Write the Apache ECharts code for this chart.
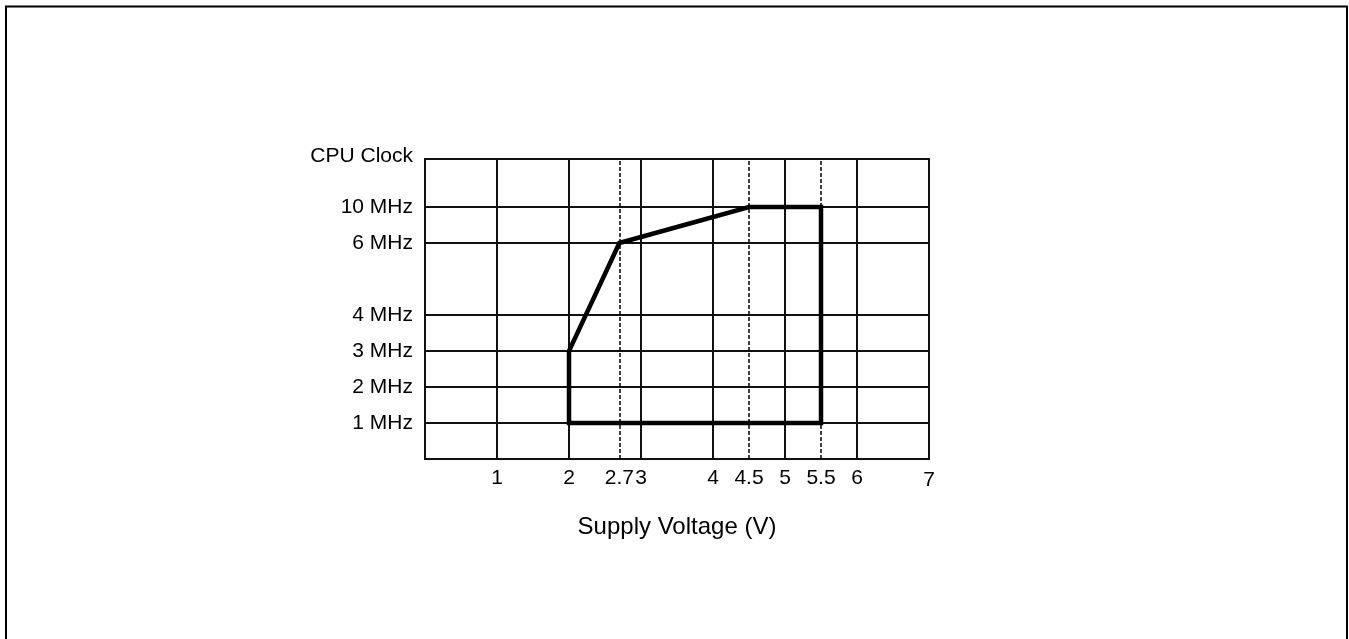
<!DOCTYPE html>
<html>
<head>
<meta charset="utf-8">
<title>CPU Clock vs Supply Voltage</title>
<script src="https://cdn.jsdelivr.net/npm/echarts@6/dist/echarts.min.js"></script>
<style>
  html, body { margin: 0; padding: 0; background: #fff; }
  #chart { width: 1349px; height: 639px; }
</style>
</head>
<body>
<div id="chart"></div>
<script>
// Supply voltage ticks (V) and grid lines
const voltTicks = [1, 2, 2.7, 3, 4, 4.5, 5, 5.5, 6, 7];
const voltGridSolid = [1, 2, 3, 4, 5, 6];
const voltGridDashed = [2.7, 4.5, 5.5];

// CPU clock ticks (MHz) and their labels
const freqTicks = [1, 2, 3, 4, 6, 10];
const freqTickLabels = ['1 MHz', '2 MHz', '3 MHz', '4 MHz', '6 MHz', '10 MHz'];

// Operating region boundary (closed polygon)
const boundaryVolt = [2, 2, 2.7, 4.5, 5.5, 5.5, 2];
const boundaryFreq = [1, 3, 6, 10, 10, 1, 1];

// The clock axis is linear up to 6 MHz, then 6..10 MHz is compressed into one step
function freqToAxis(f) {
  return f <= 6 ? f : 6 + (f - 6) / 4;
}

const FONT = '"Liberation Sans", Arial, Helvetica, sans-serif';
const chart = echarts.init(document.getElementById('chart'), null, { renderer: 'canvas' });

const option = {
  animation: false,
  backgroundColor: '#fff',
  textStyle: { fontFamily: FONT, color: '#000' },
  graphic: [{
    type: 'rect',
    shape: { x: 6, y: 6.5, width: 1341, height: 700 },
    style: { fill: 'none', stroke: '#000', lineWidth: 2 },
    silent: true
  }],
  grid: {
    left: 425, top: 159, right: 420, bottom: 180,
    show: true, borderColor: '#111', borderWidth: 2, backgroundColor: 'transparent'
  },
  xAxis: {
    type: 'value', min: 0, max: 7,
    axisLine: { show: false }, axisTick: { show: false }, splitLine: { show: false },
    axisLabel: {
      customValues: voltTicks,
      fontSize: 21, color: '#000', fontFamily: FONT, margin: 9,
      formatter: v => (v === 7 ? '{low|7}' : String(v)),
      rich: { low: { fontSize: 21, fontFamily: FONT, color: '#000', padding: [2, 0, 0, 0] } }
    },
    name: 'Supply Voltage (V)', nameLocation: 'middle', nameGap: 56,
    nameTextStyle: { fontSize: 24, color: '#000', fontFamily: FONT }
  },
  yAxis: {
    type: 'value', min: 0, max: 8.333,
    axisLine: { show: false }, axisTick: { show: false }, splitLine: { show: false },
    axisLabel: {
      customValues: freqTicks.map(freqToAxis),
      fontSize: 21, color: '#000', fontFamily: FONT, margin: 12,
      formatter: v => {
        const i = freqTicks.findIndex(f => Math.abs(freqToAxis(f) - v) < 1e-6);
        return i >= 0 ? freqTickLabels[i] : '';
      }
    },
    name: 'CPU Clock', nameLocation: 'end', nameGap: 3,
    nameTextStyle: {
      fontSize: 21, color: '#000', fontFamily: FONT,
      align: 'right', verticalAlign: 'middle', padding: [0, 12, 0, 0]
    }
  },
  series: [
    {
      name: 'grid-solid', type: 'line', data: [], silent: true,
      markLine: {
        silent: true, symbol: 'none', label: { show: false },
        lineStyle: { color: '#111', width: 2, type: 'solid' },
        data: voltGridSolid.map(v => ({ xAxis: v }))
          .concat(freqTicks.map(f => ({ yAxis: freqToAxis(f) })))
      }
    },
    {
      name: 'grid-dashed', type: 'line', data: [], silent: true,
      markLine: {
        silent: true, symbol: 'none', label: { show: false },
        lineStyle: { color: '#000', width: 1.5, type: [4, 2] },
        data: voltGridDashed.map(v => ({ xAxis: v }))
      }
    },
    {
      name: 'Operating region', type: 'line', z: 10,
      data: boundaryVolt.map((v, i) => [v, freqToAxis(boundaryFreq[i])]),
      symbol: 'none', silent: true,
      lineStyle: { color: '#000', width: 4.5, join: 'miter', cap: 'square' }
    }
  ]
};

chart.setOption(option);
</script>
</body>
</html>
